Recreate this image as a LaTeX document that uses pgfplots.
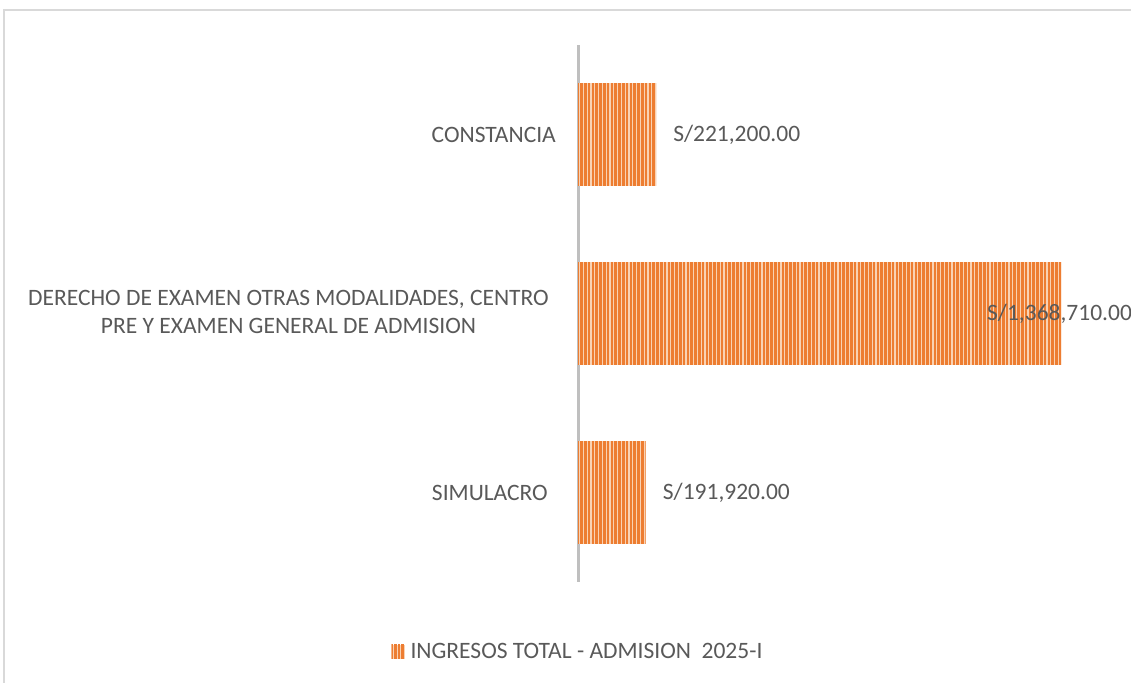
\documentclass[border=0pt]{standalone}
\usepackage{pgfplots}
\pgfplotsset{compat=1.18}
\usepackage{fontspec}
\setmainfont{Carlito}
\usetikzlibrary{patterns.meta}
\definecolor{barorange}{HTML}{ED7D31}
\definecolor{barlight}{HTML}{F9D2B3}
\definecolor{txt}{HTML}{595959}
\definecolor{axgray}{HTML}{BFBFBF}
\definecolor{framegray}{HTML}{D9D9D9}
\newcommand{\lblfont}{\fontsize{23.5bp}{28bp}\selectfont}
\begin{document}
\begin{tikzpicture}[x=1bp,y=1bp]
\useasboundingbox (0,0) rectangle (1131,683);
\draw[framegray, line width=1.5bp] (4,-5) -- (4,673) -- (1140,673);
\begin{axis}[
  at={(578bp,101bp)}, anchor=south west, scale only axis,
  width=553bp, height=537bp,
  xmin=0, xmax=1567100, ymin=-0.5, ymax=2.5,
  xbar, bar width=0.575, bar shift=0pt,
  axis x line=none, axis y line*=left,
  axis line style={draw=axgray, line width=3bp, -},
  y axis line style={draw=axgray, line width=3bp, -},
  every outer y axis line/.append style={draw=axgray, line width=3bp, -},
  ytick={0,1,2}, major tick length=0pt,
  yticklabels={{SIMULACRO\hspace*{8bp}},{\begin{tabular}{@{}c@{}}DERECHO DE EXAMEN OTRAS MODALIDADES, CENTRO\\PRE Y EXAMEN GENERAL DE ADMISION\end{tabular}\hspace*{7bp}},{CONSTANCIA}},
  yticklabel style={font=\lblfont, text=txt, inner sep=0pt, xshift=-22bp},
  legend entries={INGRESOS TOTAL - ADMISION\ \ 2025-I},
  legend style={at={(0.0,-0.130)}, anchor=center, draw=none, fill=none, font=\lblfont, text=txt, inner sep=0pt,
    /tikz/every odd column/.append style={column sep=4bp}},
  legend image code/.code={\path[fill=barlight, postaction={pattern={Lines[angle=90,distance=3.5bp,line width=2.3bp]}, pattern color=barorange}] (0bp,-7bp) rectangle (13bp,7bp);},
  clip=false,
]
\addplot[draw=none, fill=barlight, postaction={pattern={Lines[angle=90,distance=3.8bp,line width=2.6bp]}, pattern color=barorange}]
  coordinates {(191920,0) (1368710,1) (221200,2)};
\node[anchor=west, inner sep=0pt, xshift=17bp, font=\lblfont, text=txt] at (axis cs:221200,2) {S/221,200.00};
\node[anchor=west, inner sep=0pt, xshift=-74bp, font=\lblfont, text=txt] at (axis cs:1368710,1) {S/1,368,710.00};
\node[anchor=west, inner sep=0pt, xshift=17bp, font=\lblfont, text=txt] at (axis cs:191920,0) {S/191,920.00};
\end{axis}
\end{tikzpicture}
\end{document}
